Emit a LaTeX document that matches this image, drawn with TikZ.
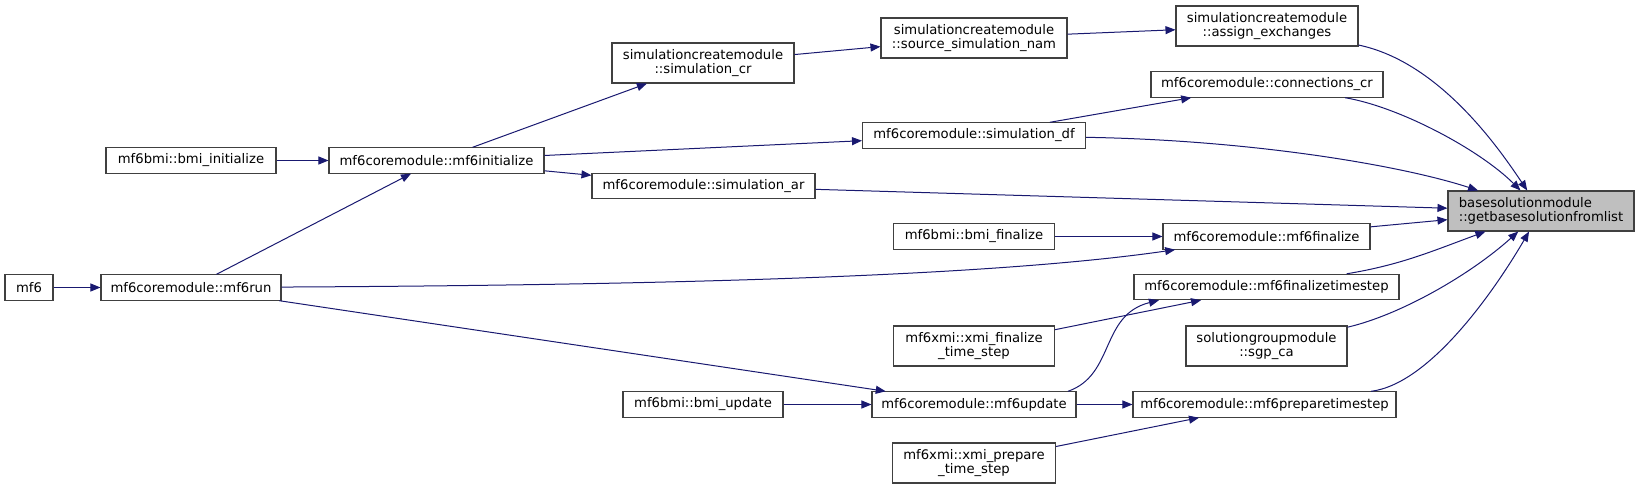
\documentclass[tikz,border=0pt]{standalone}
\usepackage{fontspec}
\setmainfont{DejaVu Sans}
\usetikzlibrary{arrows.meta}
\definecolor{edgeblue}{HTML}{191970}
\definecolor{boxgray}{HTML}{404040}
\definecolor{basefill}{HTML}{BFBFBF}

\begin{document}
\begin{tikzpicture}[
    x=0.75pt, y=-0.75pt,
    every node/.style={font=\fontsize{9.9}{11}\selectfont, align=center},
    fn/.style={rectangle, draw=boxgray, line width=0.8pt, fill=white,
               inner sep=0pt, minimum height=19pt, minimum width=#1*0.75pt},
    fntwo/.style={fn=#1, minimum height=30pt},
    arr/.style={-{Triangle[length=7.5pt, width=6pt]}, edgeblue, line width=0.75pt},
]
    \useasboundingbox (0,0) rectangle (1639,489);
    % callers, left to right
    \node[fn=48] (mf6) at (29, 287.5) {mf6};
    \node[fn=180] (run) at (191, 287.5) {mf6coremodule::mf6run};
    \node[fn=170] (bmiinit) at (191, 160.5) {mf6bmi::bmi\_initialize};
    \node[fn=215] (init) at (436.5, 160.5) {mf6coremodule::mf6initialize};
    \node[fntwo=182] (simcr) at (703, 63) {simulationcreatemodule\\::simulation\_cr};
    \node[fn=223] (simar) at (703.5, 186) {mf6coremodule::simulation\_ar};
    \node[fn=160] (bmiupd) at (703, 404.5) {mf6bmi::bmi\_update};
    \node[fntwo=186] (srcnam) at (974, 38) {simulationcreatemodule\\::source\_simulation\_nam};
    \node[fn=223] (simdf) at (974, 135.5) {mf6coremodule::simulation\_df};
    \node[fn=161] (bmifin) at (974, 236.5) {mf6bmi::bmi\_finalize};
    \node[fntwo=161] (xmifin) at (974, 346) {mf6xmi::xmi\_finalize\\\_time\_step};
    \node[fn=204] (upd) at (974, 404.5) {mf6coremodule::mf6update};
    \node[fntwo=163] (xmiprep) at (974, 463) {mf6xmi::xmi\_prepare\\\_time\_step};
    \node[fntwo=182] (assign) at (1267, 26) {simulationcreatemodule\\::assign\_exchanges};
    \node[fn=232] (conn) at (1267, 84.5) {mf6coremodule::connections\_cr};
    \node[fn=207] (fin) at (1266.5, 236.5) {mf6coremodule::mf6finalize};
    \node[fn=265] (fints) at (1266.5, 287) {mf6coremodule::mf6finalizetimestep};
    \node[fntwo=161] (sgp) at (1266.5, 346) {solutiongroupmodule\\::sgp\_ca};
    \node[fn=263] (prep) at (1264.5, 404.5) {mf6coremodule::mf6preparetimestep};
    \node[fntwo=186, fill=basefill, align=left] (base) at (1541, 211) {basesolutionmodule\\::getbasesolutionfromlist};

    \draw[arr] (mf6) -- (run);
    \draw[arr] (bmiinit) -- (init);
    \draw[arr] (run) -- (init);
    \draw[arr] (init) -- (simcr);
    \draw[arr] (init) -- (simdf);
    \draw[arr] (init) -- (simar);
    \draw[arr] (simcr) -- (srcnam);
    \draw[arr] (srcnam) -- (assign);
    \draw[arr] (simdf) -- (conn);
    \draw[arr] (run) .. controls (700,285) and (1000,275) .. (fin);
    \draw[arr] (run) -- (upd);
    \draw[arr] (bmifin) -- (fin);
    \draw[arr] (xmifin) -- (fints);
    \draw[arr] (upd.8.5) .. controls (1115,375) and (1100,315) .. (fints.187);
    \draw[arr] (bmiupd) -- (upd);
    \draw[arr] (upd) -- (prep);
    \draw[arr] (xmiprep) -- (prep);
    % into the callee
    \draw[arr] (assign) .. controls (1440,62) and (1500,150) .. (base);
    \draw[arr] (conn) .. controls (1400,107) and (1480,150) .. (base);
    \draw[arr] (simdf) .. controls (1250,140) and (1400,165) .. (base);
    \draw[arr] (simar) -- (base);
    \draw[arr] (fin) -- (base);
    \draw[arr] (fints) .. controls (1400,265) and (1430,252) .. (base);
    \draw[arr] (sgp) .. controls (1400,315) and (1470,275) .. (base);
    \draw[arr] (prep) .. controls (1430,384) and (1495,290) .. (base);
\end{tikzpicture}
\end{document}
